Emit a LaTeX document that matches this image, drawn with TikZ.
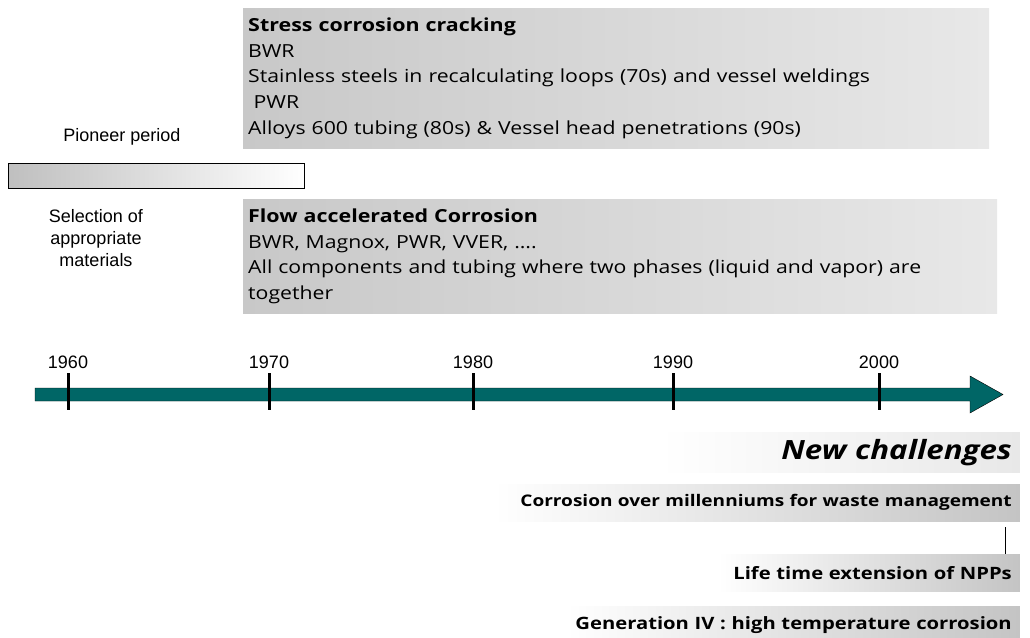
\documentclass[tikz,border=0pt]{standalone}
\usepackage{fontspec}
\usepackage{tikz}
\newfontfamily\comicfont[FakeStretch=1.18,BoldFeatures={FakeStretch=1.19}]{Open Sans}
\newfontfamily\arialfont{Liberation Sans}
\definecolor{timeteal}{RGB}{0,102,102}
\definecolor{boxdark}{RGB}{200,200,200}
\definecolor{boxlight}{RGB}{232,232,232}
\definecolor{chalgray}{RGB}{196,196,196}

\begin{document}
\begin{tikzpicture}[x=1pt,y=-1pt,
    problem box/.style={anchor=north west,left color=boxdark,right color=boxlight,
      align=left,inner xsep=5pt,font=\comicfont\fontsize{18}{25.6}\selectfont},
    challenge box/.style={anchor=north east,left color=white,right color=chalgray,
      align=right,inner xsep=8pt,inner ysep=0pt,
      font=\comicfont\bfseries\fontsize{17}{20}\selectfont},
    label text/.style={align=center,font=\arialfont\fontsize{18}{22}\selectfont}]
  \useasboundingbox (0,0) rectangle (1030,637);
  %problems%
  \node[problem box,text width=736pt,minimum height=140pt] (scc) at (243,8)
    {\textbf{Stress corrosion cracking}\\BWR\\
     Stainless steels in recalculating loops (70s) and vessel weldings\\
     \hspace{0.3em}PWR\\
     Alloys 600 tubing (80s) \& Vessel head penetrations (90s)};
  \node[problem box,text width=744pt,minimum height=114pt] (fac) at (243,199)
    {\textbf{Flow accelerated Corrosion}\\BWR, Magnox, PWR, VVER, ….\\
     All components and tubing where two phases (liquid and vapor) are\\
     together};
  \node[label text] (pioneer) at (122,137) {Pioneer period};
  \node[draw,anchor=north west,left color=gray!50,right color=white,
        minimum width=296pt,minimum height=25pt,inner sep=0pt] (bar) at (8,163) {};
  \node[label text] (selection) at (96,238) {Selection of\\appropriate\\materials};
  %timeline%
  \draw[fill=timeteal,thin] (35,388) -- (970,388) -- (970,376) -- (1003,394.5)
    -- (970,413) -- (970,401) -- (35,401) -- cycle;
  \foreach \yr/\xx in {1960/68,1970/269,1980/473,1990/673,2000/879}{
    \draw[line width=3pt] (\xx,373) -- (\xx,410);
    \node[label text] (y\yr) at (\xx,362) {\yr};
  }
  %challenges%
  \node[challenge box,right color=boxlight,text width=344pt,minimum height=40pt,
        font=\comicfont\bfseries\itshape\fontsize{26.5}{30}\selectfont] (new) at (1020,432)
    {New challenges};
  \node[challenge box,text width=510pt,minimum height=37pt,
        font=\comicfont\bfseries\fontsize{16}{20}\selectfont] (millen) at (1020,484)
    {Corrosion over millenniums for waste management};
  \node[challenge box,text width=286pt,minimum height=37pt] (life) at (1020,554)
    {Life time extension of NPPs};
  \node[challenge box,text width=437pt,minimum height=37pt] (gen) at (1020,606)
    {Generation IV : high temperature corrosion};
  \draw ([xshift=-15pt,yshift=-6pt]millen.south east) -- ([xshift=-15pt]life.north east);
\end{tikzpicture}
\end{document}
